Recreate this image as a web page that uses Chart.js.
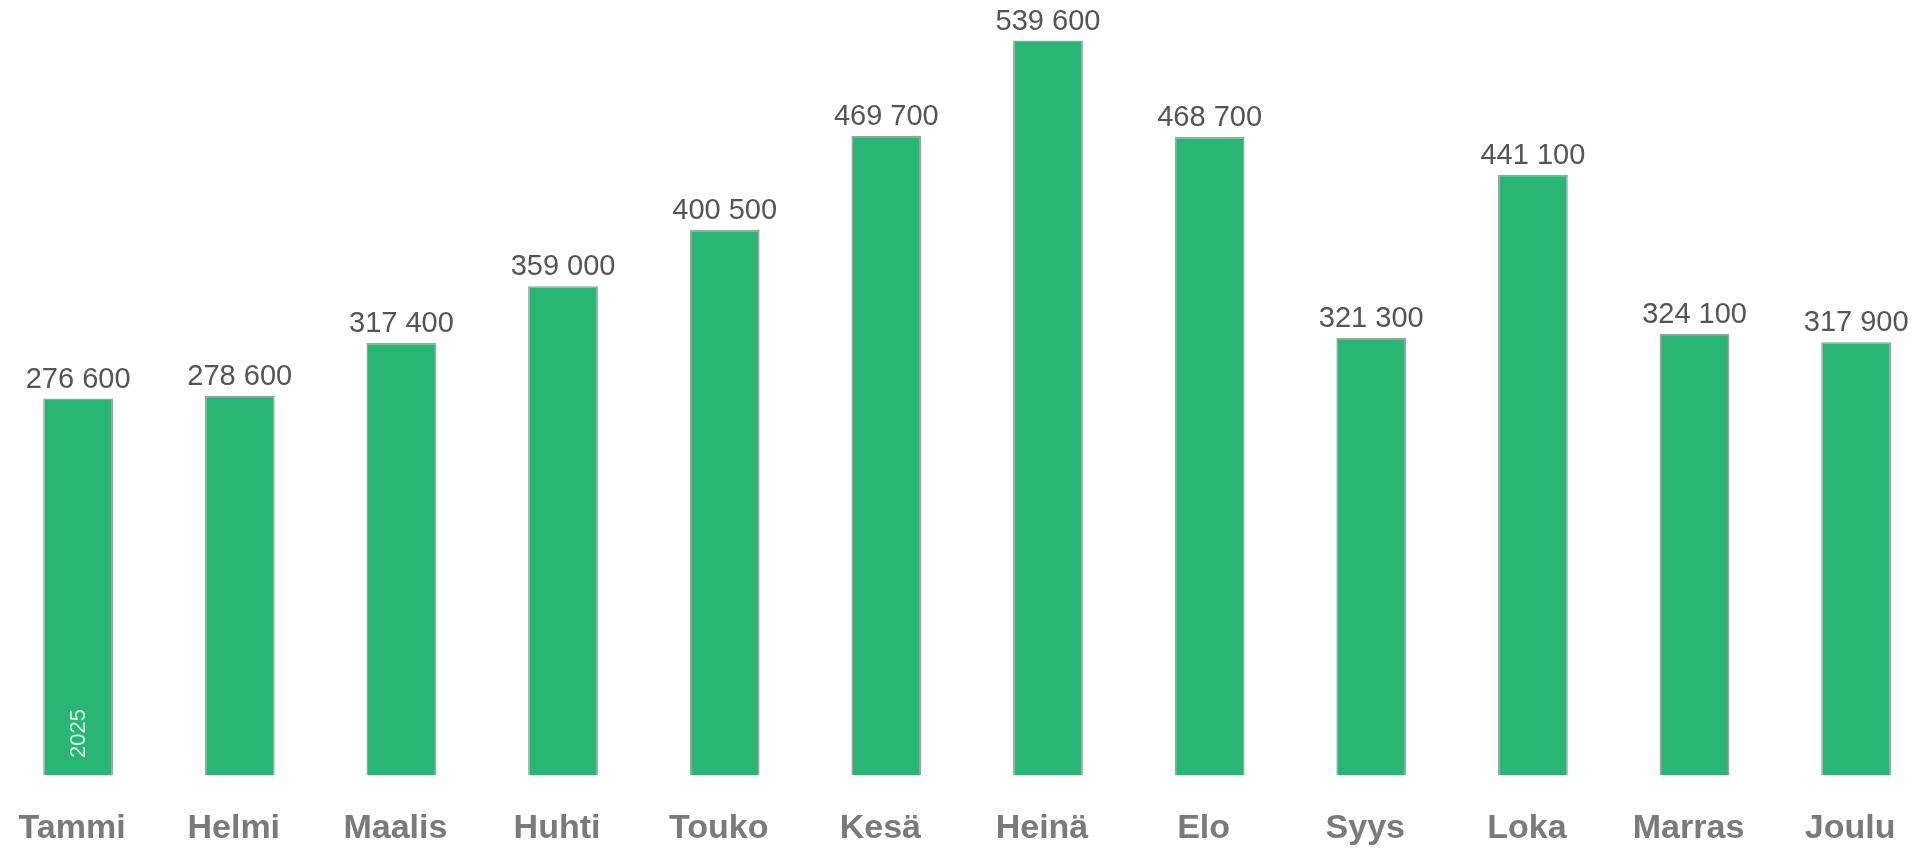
<!DOCTYPE html>
<html>
<head>
<meta charset="utf-8">
<script src="https://cdn.jsdelivr.net/npm/chart.js@4/dist/chart.umd.min.js"></script>
<style>
  html, body { margin: 0; padding: 0; background: #fff; overflow: hidden; }
  #wrap { position: absolute; left: -9px; top: 0; width: 1946px; height: 883px; }
</style>
</head>
<body>
<div id="wrap"><canvas id="chart"></canvas></div>
<script>
const months = ['Tammi', 'Helmi', 'Maalis', 'Huhti', 'Touko', 'Kesä', 'Heinä', 'Elo', 'Syys', 'Loka', 'Marras', 'Joulu'];
const visitors2025 = [276600, 278600, 317400, 359000, 400500, 469700, 539600, 468700, 321300, 441100, 324100, 317900];
const seriesName = '2025';

const fmt = v => String(v).replace(/\B(?=(\d{3})+(?!\d))/g, ' ');

// value labels above bars + year label inside first bar
const labelsPlugin = {
  id: 'barLabels',
  afterDatasetsDraw(chart) {
    const ctx = chart.ctx;
    const meta = chart.getDatasetMeta(0);
    ctx.save();
    ctx.font = '29px "Liberation Sans", Arial, sans-serif';
    ctx.fillStyle = '#555';
    ctx.textAlign = 'center';
    ctx.textBaseline = 'alphabetic';
    meta.data.forEach((bar, i) => {
      ctx.fillText(fmt(visitors2025[i]), bar.x, bar.y - 11);
    });
    const first = meta.data[0];
    ctx.translate(first.x, first.base - 17);
    ctx.rotate(-Math.PI / 2);
    ctx.font = '22px "Liberation Sans", Arial, sans-serif';
    ctx.fillStyle = '#d8f8e6';
    ctx.textAlign = 'left';
    ctx.textBaseline = 'middle';
    ctx.fillText(seriesName, 0, 1);
    ctx.restore();
  }
};

new Chart(document.getElementById('chart'), {
  type: 'bar',
  data: {
    labels: months,
    datasets: [{
      label: seriesName,
      data: visitors2025,
      backgroundColor: 'rgb(41, 181, 115)',
      borderColor: '#a0a0a0',
      borderWidth: 1.5,
      categoryPercentage: 1,
      barPercentage: 0.432
    }]
  },
  options: {
    responsive: true,
    maintainAspectRatio: false,
    animation: false,
    layout: { padding: 0 },
    plugins: { legend: { display: false }, tooltip: { enabled: false } },
    scales: {
      x: {
        grid: { display: false, drawTicks: false },
        border: { display: false },
        ticks: {
          padding: 33.6,
          labelOffset: -6,
          color: '#7a7a7a',
          font: { family: '"Liberation Sans", Arial, sans-serif', size: 34, weight: 'bold' }
        }
      },
      y: { display: false, min: 0, max: 569400 }
    }
  },
  plugins: [labelsPlugin]
});
</script>
</body>
</html>
